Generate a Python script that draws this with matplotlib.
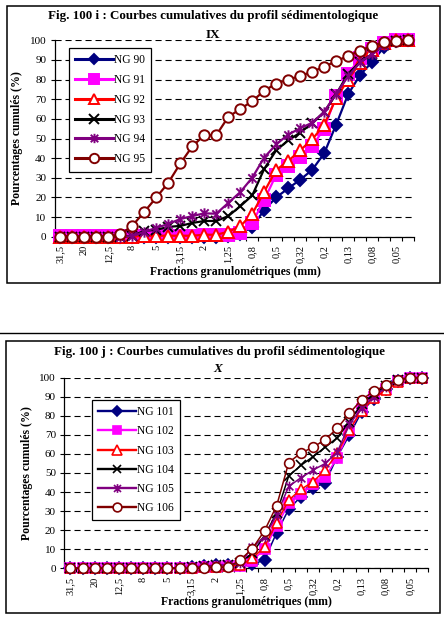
import matplotlib
matplotlib.use("Agg")
import matplotlib.pyplot as plt
import numpy as np
from matplotlib.path import Path
from matplotlib.lines import Line2D
from matplotlib.patches import Rectangle

plt.rcParams['font.family'] = ['Liberation Serif', 'DejaVu Serif']

# ---------------- data ----------------
fractions = ['31,5', '25', '20', '16', '12,5', '10', '8', '6,3', '5', '4', '3,15', '2,5', '2', '1,6',
             '1,25', '1', '0,8', '0,63', '0,5', '0,4', '0,32', '0,25', '0,2', '0,16', '0,13', '0,1',
             '0,08', '0,063', '0,05', '0,04']
shown_labels = ['31,5', '20', '12,5', '8', '5', '3,15', '2', '1,25', '0,8', '0,5', '0,32', '0,2',
                '0,13', '0,08', '0,05']

ng90 = [0, 0, 0, 0, 0, 0, 0, 0, 0, 0, 0, 0, 0, 0, 0.5, 1.5, 5, 13.6, 20, 24.6, 29, 34, 42.4, 57, 72.5, 82.3, 89, 96.5, 99.5, 100]
ng91 = [0.5, 0.5, 0.5, 0.5, 0.5, 0.5, 0.5, 0.5, 0.5, 0.5, 0.5, 0.5, 0.7, 0.8, 1, 2, 7, 18.7, 31.5, 36, 40.5, 46, 55, 71.5, 83, 90.8, 95.5, 98.5, 100, 100]
ng92 = [0, 0, 0, 0, 0, 0, 0, 0.5, 0.5, 0.5, 0.5, 0.5, 1, 1, 2.5, 5.3, 11.6, 22.9, 34, 38.5, 44, 49.5, 57, 70.4, 80, 88.5, 95, 98.5, 100, 100]
ng93 = [0, 0, 0, 0, 0, 0, 0.5, 3, 3.5, 5, 5.5, 7, 8, 8, 10.5, 15.5, 21, 34.5, 44, 49, 53, 57.7, 63.5, 72.5, 83, 88.8, 93, 97.5, 99.5, 100]
ng94 = [0, 0, 0, 0, 0, 0, 0.3, 2.5, 4.5, 6.5, 9, 10.5, 11.9, 11.7, 17.2, 22.7, 30, 40.3, 47, 52, 55.2, 58, 63.5, 72.8, 81.6, 88.8, 93, 97.5, 99.5, 100]
ng95 = [0, 0, 0, 0, 0, 1.2, 5.6, 12.7, 20, 27.5, 37.3, 46, 51.7, 51.7, 61, 65, 69, 74.3, 78, 80, 81.8, 84, 86.5, 89.4, 92, 94.7, 97.2, 98.9, 99.7, 100]

ng101 = [0, 0, 0, 0, 0, 0, 0, 0, 0, 0, 0.5, 1, 1.5, 1.5, 1.5, 2, 4.4, 18.7, 31, 37.6, 42, 45, 58.5, 70, 82, 89, 94, 98.5, 100, 100]
ng102 = [0, 0, 0, 0, 0, 0, 0, 0, 0, 0, 0.3, 0.5, 0.8, 1, 1, 4, 10, 22, 34, 39, 44, 48, 58, 72, 83.5, 90, 94, 98.5, 100, 100]
ng103 = [0, 0, 0, 0, 0, 0, 0, 0, 0, 0, 0.3, 0.5, 0.8, 1, 1.7, 5.2, 11.3, 24, 35.8, 41.4, 45.4, 51.6, 60.3, 72.6, 82.7, 89.2, 93.5, 97.9, 100, 100]
ng104 = [0, 0, 0, 0, 0, 0, 0, 0, 0, 0, 0.5, 1, 1.5, 1.5, 3, 8, 17, 29, 48.5, 54, 58.6, 63.5, 68.5, 77, 86, 91.5, 95.5, 99, 100, 100]
ng105 = [0, 0, 0, 0, 0, 0, 0, 0, 0, 0, 0.5, 1, 1.5, 1.5, 3, 11, 16.5, 28, 43, 47.5, 51.5, 55, 61, 75.5, 84, 90, 95, 98.5, 100, 100]
ng106 = [0, 0, 0, 0, 0, 0, 0, 0, 0, 0, 0, 0, 0.5, 0.5, 4.4, 10.3, 19.7, 32.8, 55.5, 60.5, 63.5, 67.5, 73.5, 81.3, 88.5, 92.8, 96, 98.8, 100, 100]

names_top = ['NG 90', 'NG 91', 'NG 92', 'NG 93', 'NG 94', 'NG 95']
names_bot = ['NG 101', 'NG 102', 'NG 103', 'NG 104', 'NG 105', 'NG 106']

# ---------------- styles ----------------
star = Path([(-1, -1), (1, 1), (-1, 1), (1, -1), (0, -1.25), (0, 1.25)],
            [Path.MOVETO, Path.LINETO, Path.MOVETO, Path.LINETO, Path.MOVETO, Path.LINETO])

styles = [
    dict(color='#000080', marker='D', mfc='#000080', mec='#000080'),
    dict(color='#FF00FF', marker='s', mfc='#FF00FF', mec='#FF00FF'),
    dict(color='#FF0000', marker='^', mfc='white', mec='#FF0000'),
    dict(color='#000000', marker='x', mfc='none', mec='#000000'),
    dict(color='#800080', marker=star, mfc='none', mec='#800080'),
    dict(color='#800000', marker='o', mfc='white', mec='#800000'),
]
msizes_top = [6, 8, 8, 7.5, 7.5, 7.5]
msizes_bot = [6, 7, 7.5, 7, 7, 7]

W, H = 444, 623
fig = plt.figure(figsize=(W / 100, H / 100), dpi=100)


def fx(px):
    return px / W


def fy(py):
    return 1 - py / H


def make_panel(left, right, top, bottom, series, names, msizes, lw, mew, title, sub, sub_style,
               leg_xy, labelspacing, title_y, sub_y, ylabel_x, xlabel_y, xlabel_x, title_x, sub_x):
    ax = fig.add_axes([fx(left), fy(bottom), fx(right) - fx(left), fy(top) - fy(bottom)])
    x = np.arange(len(fractions))
    for vals, st, ms in zip(series, styles, msizes):
        ax.plot(x, vals, color=st['color'], lw=lw, marker=st['marker'], markersize=ms,
                markerfacecolor=st['mfc'], markeredgecolor=st['mec'], markeredgewidth=mew,
                clip_on=False, zorder=3)
    ax.set_xlim(-0.5, len(fractions) - 0.5)
    ax.set_ylim(0, 100)
    ax.set_yticks(np.arange(0, 101, 10))
    ax.yaxis.grid(True, color='black', lw=0.8, linestyle=(0, (5.5, 3.5)))
    ax.set_axisbelow(True)
    for s in ['top', 'right']:
        ax.spines[s].set_visible(False)
    for s in ['left', 'bottom']:
        ax.spines[s].set_linewidth(0.9)
    ax.set_xticks(np.arange(0, len(fractions), 2))
    ax.set_xticklabels(shown_labels, rotation=90, fontsize=7.5)
    ax.set_xticks(np.arange(-0.5, len(fractions), 1), minor=True)
    ax.tick_params(axis='x', which='major', length=0, pad=6)
    ax.tick_params(axis='x', which='minor', length=3, width=0.8, direction='out')
    ax.tick_params(axis='y', length=3, width=0.8, labelsize=8, pad=3)
    ax.set_facecolor('none')
    fig.text(fx(xlabel_x), fy(xlabel_y), 'Fractions granulométriques (mm)', ha='center', va='center',
             fontsize=8.5, fontweight='bold')
    fig.text(fx(ylabel_x), fy((top + bottom) / 2), 'Pourcentages cumulés (%)', ha='center', va='center',
             rotation=90, fontsize=8.5, fontweight='bold')
    fig.text(fx(title_x), fy(title_y), title, ha='center', va='center', fontsize=9.4, fontweight='bold')
    fig.text(fx(sub_x), fy(sub_y), sub, ha='center', va='center', fontsize=9.5, fontweight='bold',
             style=sub_style)
    # legend
    handles = [Line2D([], [], color=st['color'], lw=lw + 0.6, marker=st['marker'], markersize=ms * 0.9,
                      markerfacecolor=st['mfc'], markeredgecolor=st['mec'], markeredgewidth=mew)
               for st, ms in zip(styles, msizes)]
    lx0, ly0 = leg_xy
    leg = fig.legend(handles, names, loc='upper left',
                     bbox_to_anchor=(fx(lx0), fy(ly0)), bbox_transform=fig.transFigure,
                     frameon=True, fancybox=False, edgecolor='black', framealpha=1,
                     prop={'family': 'Liberation Serif', 'size': 8.3},
                     handlelength=3.3, handletextpad=0.05, borderpad=0.55, labelspacing=labelspacing,
                     borderaxespad=0)
    leg.get_frame().set_linewidth(0.9)
    return ax


make_panel(54.5, 414, 40.3, 236.7, [ng90, ng91, ng92, ng93, ng94, ng95], names_top, msizes_top,
           1.6, 1.4, 'Fig. 100 i : Courbes cumulatives du profil sédimentologique', 'IX', 'normal',
           (69, 47.7), 0.68, title_y=16.5, sub_y=35, ylabel_x=17, xlabel_y=272,
           xlabel_x=235, title_x=213, sub_x=213)

make_panel(64.3, 428.3, 377.7, 568.3, [ng101, ng102, ng103, ng104, ng105, ng106], names_bot, msizes_bot,
           1.1, 1.2, 'Fig. 100 j : Courbes cumulatives du profil sédimentologique', 'X', 'italic',
           (91.7, 400), 0.62, title_y=352.5, sub_y=369.5, ylabel_x=27, xlabel_y=601.5,
           xlabel_x=246, title_x=219, sub_x=218)

# panel frames and separator line
fig.patches.append(Rectangle((fx(7), fy(283)), fx(440) - fx(7), fy(6) - fy(283), transform=fig.transFigure,
                             fill=False, edgecolor='black', lw=1.1))
fig.patches.append(Rectangle((fx(6), fy(612.5)), fx(439.5) - fx(6), fy(341) - fy(612.5),
                             transform=fig.transFigure, fill=False, edgecolor='black', lw=1.1))
fig.lines.append(Line2D([0, 1], [fy(332.7), fy(332.7)], transform=fig.transFigure, color='black', lw=1.0))

fig.savefig('out.png', dpi=100)
